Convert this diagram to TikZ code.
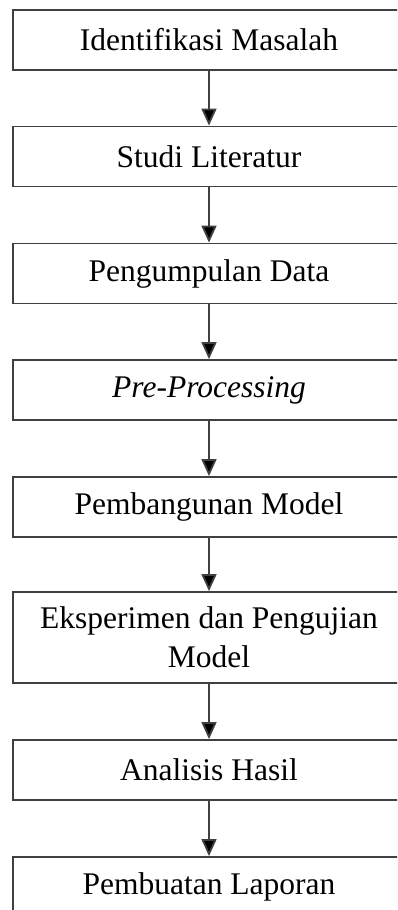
\documentclass[tikz,border=0pt]{standalone}
\usepackage{fontspec}
\setmainfont{Liberation Serif}
\usetikzlibrary{arrows.meta}

\begin{document}
\begin{tikzpicture}[x=1pt, y=-1pt,
  stage/.style={draw=black!75, line width=1.8pt, fill=white, minimum width=392pt, minimum height=60pt, inner sep=0pt, align=center, font=\fontsize{31.5}{39}\selectfont},
  >={Triangle[width=15pt,length=17pt]}]

\useasboundingbox (0,0) rectangle (397,910);
\clip (0,0) rectangle (397,910);

\node[stage] (s1) at (209,40) {Identifikasi Masalah};
\node[stage] (s2) at (209,156.5) {Studi Literatur};
\node[stage] (s3) at (209,273.5) {Pengumpulan Data};
\node[stage] (s4) at (209,390) {\textit{Pre-Processing}};
\node[stage] (s5) at (209,507) {Pembangunan Model};
\node[stage, minimum height=91pt] (s6) at (209,637.5) {Eksperimen dan Pengujian\\Model};
\node[stage] (s7) at (209,770) {Analisis Hasil};
\node[stage] (s8) at (209,887) {Pembuatan Laporan};

\draw[->, line width=1.8pt, draw=black!75]  (s1) edge (s2);
\draw[->, line width=1.8pt, draw=black!75]  (s2) edge (s3);
\draw[->, line width=1.8pt, draw=black!75]  (s3) edge (s4);
\draw[->, line width=1.8pt, draw=black!75]  (s4) edge (s5);
\draw[->, line width=1.8pt, draw=black!75]  (s5) edge (s6);
\draw[->, line width=1.8pt, draw=black!75]  (s6) edge (s7);
\draw[->, line width=1.8pt, draw=black!75]  (s7) edge (s8);
\end{tikzpicture}
\end{document}
